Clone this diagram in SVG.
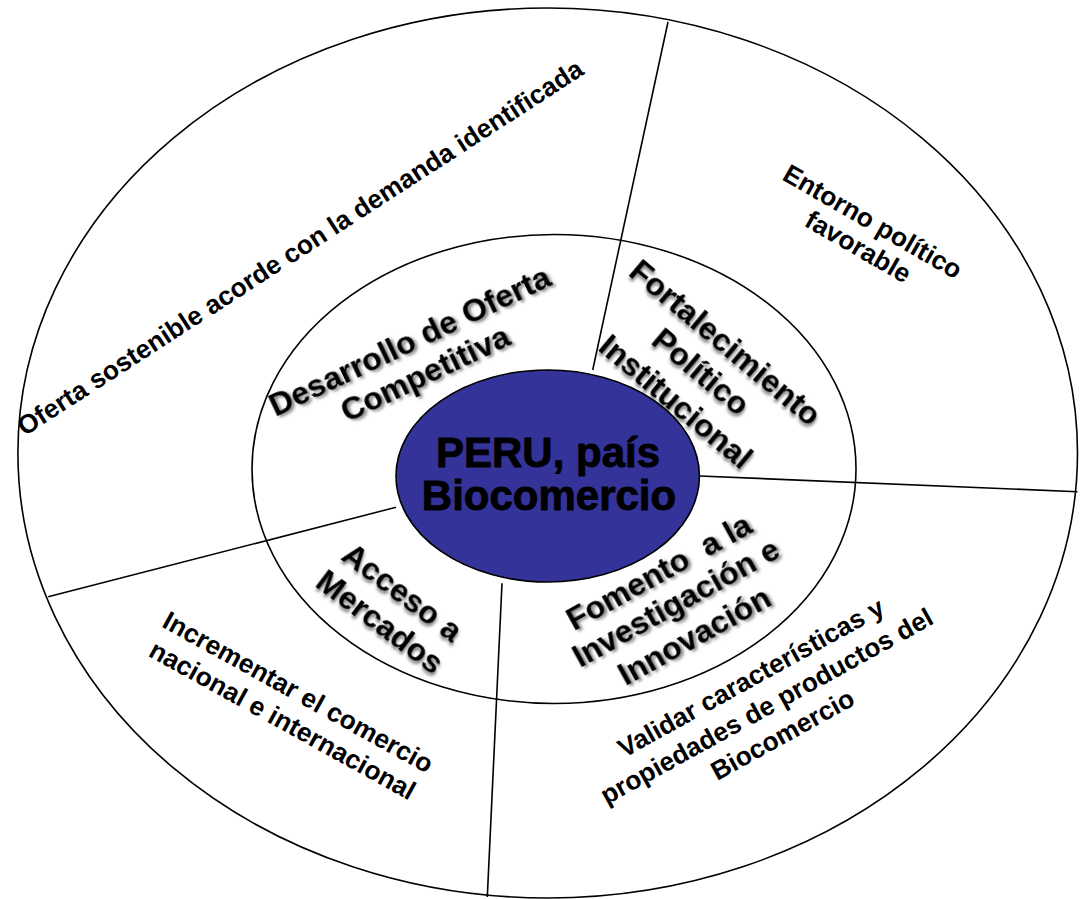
<svg xmlns="http://www.w3.org/2000/svg" width="1080" height="899" viewBox="0 0 1080 899">
<style>
.ring{fill:none;stroke:#000;stroke-width:1.6}
.core{fill:#333399;stroke:#000;stroke-width:1.6}
.div{fill:none;stroke:#000;stroke-width:1.6}
text{font-family:"Liberation Sans",Arial,Helvetica,sans-serif;font-weight:bold;fill:#000;text-anchor:middle}
.outer{font-size:26.3px}
.inner{font-size:32px}
.center{font-size:42px;stroke:#000;stroke-width:0.9px}
.sh{filter:url(#shadow)}
</style>
<defs>
<filter id="shadow" x="-20%" y="-40%" width="140%" height="180%">
<feDropShadow dx="2" dy="2.5" stdDeviation="1.4" flood-color="#000" flood-opacity="0.5"/>
</filter>
</defs>
<rect width="1080" height="899" fill="#fff"/>
<g id="outer-ring"><ellipse class="ring" cx="547.7" cy="453" rx="529.8" ry="445"/></g>
<g id="inner-ring"><ellipse class="ring" cx="554" cy="469" rx="302" ry="234.5"/></g>
<g id="connectors">
<line class="div" x1="668" y1="22" x2="592.7" y2="370"/>
<line class="div" x1="699.7" y1="476" x2="1077.5" y2="491.7"/>
<line class="div" x1="396" y1="507.3" x2="48.2" y2="596.7"/>
<line class="div" x1="502" y1="583.3" x2="487.3" y2="897"/>
</g>
<g id="core">
<ellipse class="core" cx="547.7" cy="476" rx="151.7" ry="106"/>
<text class="center" x="548" y="467">PERU, país</text>
<text class="center" x="549" y="510">Biocomercio</text>
</g>
<g id="oferta-sostenible" transform="translate(305,255) rotate(-32.9)">
<text class="outer" x="0" y="0">Oferta sostenible acorde con la demanda identificada</text>
</g>
<g id="entorno-politico" transform="translate(861,242) rotate(30)">
<text class="outer" x="0" y="-14.5">Entorno político</text>
<text class="outer" x="0" y="14.5">favorable</text>
</g>
<g id="incrementar-comercio" transform="translate(286,714) rotate(29)">
<text class="outer" x="0" y="-16">Incrementar el comercio</text>
<text class="outer" x="0" y="16">nacional e internacional</text>
</g>
<g id="validar-caracteristicas" transform="translate(771,714) rotate(-29)">
<text class="outer" x="0" y="-32.6">Validar características y</text>
<text class="outer" x="0" y="0">propiedades de productos del</text>
<text class="outer" x="0" y="32.6">Biocomercio</text>
</g>
<g id="desarrollo-oferta" class="sh" transform="translate(422,367) rotate(-25.5)">
<text class="inner" x="0" y="-18">Desarrollo de Oferta</text>
<text class="inner" x="0" y="18">Competitiva</text>
</g>
<g id="fortalecimiento" class="sh" transform="translate(694,380) rotate(40)">
<text class="inner" x="0" y="-38.5">Fortalecimiento</text>
<text class="inner" x="0" y="0">Político</text>
<text class="inner" x="0" y="38.5">Institucional</text>
</g>
<g id="acceso-mercados" class="sh" transform="translate(385,615.3) rotate(37)">
<text class="inner" x="0" y="-18.5">Acceso a</text>
<text class="inner" x="0" y="18.5">Mercados</text>
</g>
<g id="fomento-investigacion" class="sh" transform="translate(681,612) rotate(-29)">
<text class="inner" x="0" y="-35.5" xml:space="preserve">Fomento  a la</text>
<text class="inner" x="0" y="0">Investigación e</text>
<text class="inner" x="0" y="38">Innovación</text>
</g>
</svg>
